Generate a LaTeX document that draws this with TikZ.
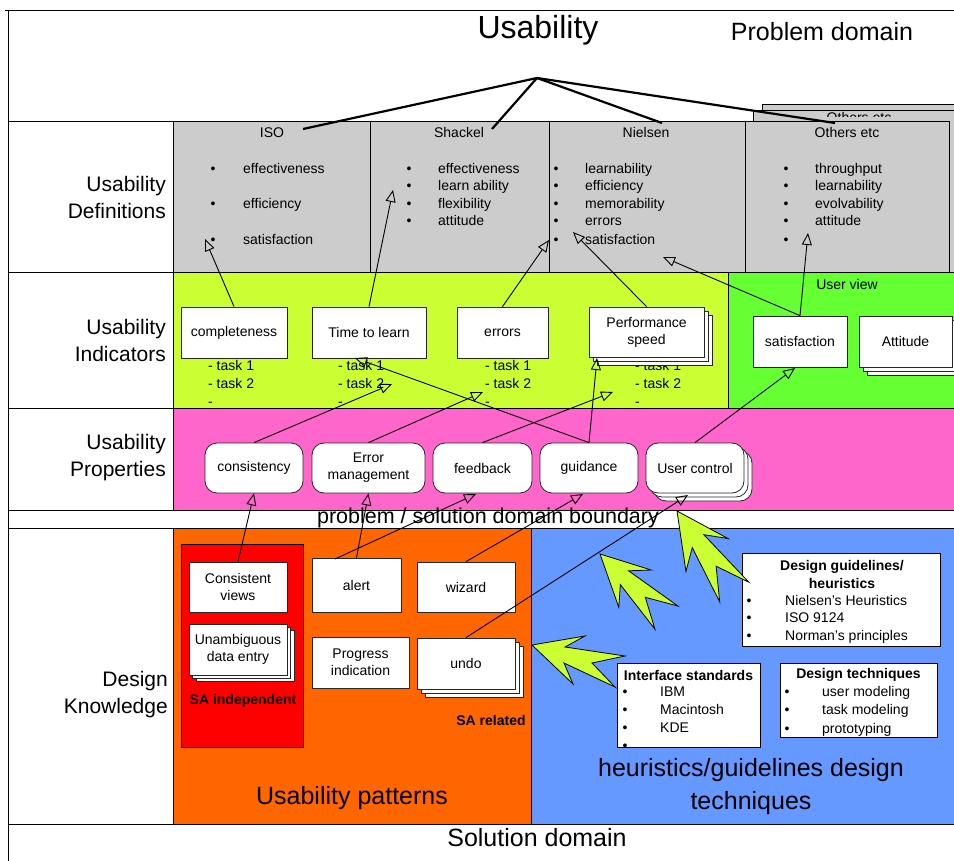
\documentclass[tikz,border=0pt]{standalone}
\usepackage{fontspec}
\setmainfont{Liberation Sans}
\usetikzlibrary{arrows.meta,shadows}
\definecolor{defgray}{HTML}{CCCCCC}
\definecolor{ulime}{HTML}{CCFF33}
\definecolor{ugreen}{HTML}{66FF33}
\definecolor{upink}{HTML}{FF66CC}
\definecolor{uorange}{HTML}{FF6600}
\definecolor{ublue}{HTML}{6699FF}
\definecolor{ured}{HTML}{FF0000}
\begin{document}
\begin{tikzpicture}[x=1pt,y=-1pt,
  region/.style={draw=black,line width=0.9pt},
  ibox/.style={draw=black!85,fill=white,line width=0.8pt,inner sep=1pt,align=center,font=\fontsize{14}{17}\selectfont},
  pbox/.style={ibox,rounded corners=12pt},
  txt/.style={inner sep=0pt,font=\fontsize{14}{17}\selectfont},
  itm/.style={txt,anchor=west,text height=10pt,text depth=3pt},
  bul/.style={txt,text height=10pt,text depth=3pt},
  boldtxt/.style={inner sep=0pt,align=center,font={\fontsize{14}{18}\selectfont\bfseries}},
  big/.style={inner sep=0pt,align=center,font=\fontsize{25}{33}\selectfont},
  side/.style={inner sep=0pt,align=right,anchor=east,font=\fontsize{21}{27}\selectfont},
  conn/.style={line width=0.9pt,-{Triangle[open,length=12pt,width=10pt]}},
  fan/.style={line width=2.2pt},
  claw/.style={fill=ulime,draw=black,line width=0.8pt,line join=miter},
  stackthree/.style={double copy shadow={shadow xshift=4pt,shadow yshift=-4pt}},
  clawpic/.pic={\draw[claw] (0,0) -- (53,-9) -- (33,2) -- (93,11) -- (60,18) -- (83,42) -- (32,18) -- (41,39) -- cycle;}
]
\useasboundingbox (0,0) rectangle (954,861);
\fill[white] (0,0) rectangle (954,861);

% ---------- frame and left column ----------
\draw[region] (5,10) -- (954,10);
\draw[region] (8,10) -- (8,861);
\draw[region] (8,121) -- (173,121);
\draw[region] (8,272) -- (173,272);
\draw[region] (8,408) -- (173,408);
\draw[region] (8,510) -- (954,510);
\draw[region] (8,528) -- (954,528);
\draw[region] (8,824) -- (954,824);

\node[side] (lDef) at (166,197) {Usability\\Definitions};
\node[side] (lInd) at (166,340) {Usability\\Indicators};
\node[side] (lProp) at (166,458) {Usability\\Properties};
\node[side] (lDK) at (168,695) {Design\\Knowledge};

% ---------- top ----------
\node[inner sep=0pt,font=\fontsize{32}{36}\selectfont] (title) at (538,30) {Usability};
\node[inner sep=0pt,font=\fontsize{25}{30}\selectfont] (pdom) at (822,32) {Problem domain};

% ---------- definitions row ----------
\draw[region,fill=defgray] (762,104) rectangle (958,272);
\draw[region,fill=defgray] (753,110) rectangle (958,272);
\begin{scope}
  \clip (753,111) rectangle (958,116.5);
  \node[bul] (oth2t) at (859,119.5) {Others etc};
\end{scope}

\node[region,fill=defgray,inner sep=0pt,anchor=north west,minimum width=197,minimum height=151] (iso) at (173,121) {};
\node[region,fill=defgray,inner sep=0pt,anchor=north west,minimum width=179,minimum height=151] (shackel) at (370,121) {};
\node[region,fill=defgray,inner sep=0pt,anchor=north west,minimum width=196,minimum height=151] (nielsen) at (549,121) {};
\node[region,fill=defgray,inner sep=0pt,anchor=north west,minimum width=204,minimum height=151] (others) at (745,121) {};

\node[bul] (isoh) at (272,134) {ISO};
\node[bul] (shh) at (459,134) {Shackel};
\node[bul] (nih) at (646,134) {Nielsen};
\node[bul] (oth) at (847,134) {Others etc};

\foreach \t/\yy [count=\i] in {effectiveness/170, efficiency/205, satisfaction/241}
  {\node[bul] (isob\i) at (213,\yy) {\textbullet}; \node[itm] (isoi\i) at (243,\yy) {\t};}
\foreach \t/\yy [count=\i] in {effectiveness/170, learn ability/187, flexibility/205, attitude/222}
  {\node[bul] (shb\i) at (409,\yy) {\textbullet}; \node[itm] (shi\i) at (438,\yy) {\t};}
\foreach \t/\yy [count=\i] in {learnability/170, efficiency/187, memorability/205, errors/222, satisfaction/241}
  {\node[bul] (nib\i) at (556,\yy) {\textbullet}; \node[itm] (nii\i) at (585,\yy) {\t};}
\foreach \t/\yy [count=\i] in {throughput/170, learnability/187, evolvability/205, attitude/222}
  {\node[bul] (otb\i) at (786,\yy) {\textbullet}; \node[itm] (oti\i) at (815,\yy) {\t};}
\node[bul] (otb5) at (786,241) {\textbullet};

% ---------- indicators row ----------
\draw[region,fill=ulime] (173,272) rectangle (728,408);
\draw[region,fill=ugreen] (728,272) rectangle (958,408);
\node[txt] (uview) at (847,284) {User view};

\foreach \xx/\nm in {208/a,338/b,485/c,635/d}{
  \node[itm] (tk\nm1) at (\xx,367) {- task 1};
  \node[itm] (tk\nm2) at (\xx,385) {- task 2};
  \node[itm] (tk\nm3) at (\xx,403) {-};
}

\node[ibox,minimum width=106,minimum height=51] (compl) at (234,332.5) {completeness};
\node[ibox,minimum width=114,minimum height=51] (tlearn) at (369,332.5) {Time to learn};
\node[ibox,minimum width=91,minimum height=51] (errs) at (502.5,332.5) {errors};
\node[ibox,stackthree,minimum width=115,minimum height=50] (perf) at (646.5,332) {Performance\\speed};
\node[ibox,minimum width=94,minimum height=51] (satis) at (800,341.5) {satisfaction};
\node[ibox,stackthree,minimum width=93,minimum height=51] (attit) at (905.5,341.5) {Attitude};

% ---------- properties row ----------
\draw[region,fill=upink] (173,408) rectangle (958,510);
\node[pbox,minimum width=98,minimum height=50] (cons) at (254,468) {consistency};
\node[pbox,minimum width=113,minimum height=50] (errm) at (368.5,468) {Error\\management};
\node[pbox,minimum width=99,minimum height=50] (feed) at (482.5,468) {feedback};
\node[pbox,minimum width=98,minimum height=50] (guid) at (589,468) {guidance};
\node[pbox,stackthree,minimum width=98,minimum height=50] (uctrl) at (695,468) {User control};

\node[inner sep=0pt,font=\fontsize{21.5}{25}\selectfont] (bound) at (488,518) {problem / solution domain boundary};

% ---------- design knowledge row ----------
\draw[region,fill=uorange] (173,528) rectangle (531,824);
\draw[region,fill=ublue] (531,528) rectangle (958,824);
\draw[region,fill=ured] (181,544) rectangle (303,747);

\node[ibox,minimum width=98,minimum height=50] (cviews) at (238,587) {Consistent\\views};
\node[ibox,double copy shadow={shadow xshift=3.5pt,shadow yshift=-3pt},minimum width=98,minimum height=51] (unamb) at (238,649.5) {Unambiguous\\data entry};
\node[boldtxt] (saind) at (243,701) {SA independent};
\node[ibox,minimum width=89,minimum height=54] (alert) at (356.5,585) {alert};
\node[ibox,minimum width=98,minimum height=50] (wiz) at (466,587) {wizard};
\node[ibox,minimum width=97,minimum height=51] (prog) at (360.5,662.5) {Progress\\indication};
\node[ibox,stackthree,minimum width=98,minimum height=51] (undo) at (466,663.5) {undo};
\node[boldtxt] (sarel) at (491,720) {SA related};
\node[big] (upat) at (352,798) {Usability patterns};

\node[region,fill=white,inner sep=0pt,anchor=north west,minimum width=198,minimum height=93] (dg) at (742,553) {};
\node[boldtxt] (dgt) at (842,574) {Design guidelines/\\heuristics};
\foreach \t/\yy [count=\i] in {Nielsen’s Heuristics/602, ISO 9124/619, Norman’s principles/637}
  {\node[bul] (dgb\i) at (749,\yy) {\textbullet}; \node[itm] (dgi\i) at (785,\yy) {\t};}

\node[region,fill=white,inner sep=0pt,anchor=north west,minimum width=143,minimum height=84] (istd) at (617,663) {};
\node[boldtxt] (istdt) at (688.5,675) {Interface standards};
\foreach \t/\yy [count=\i] in {IBM/693, Macintosh/711, KDE/729}
  {\node[bul] (isb\i) at (625,\yy) {\textbullet}; \node[itm] (isi\i) at (660,\yy) {\t};}
\node[bul] (isb4) at (625,747) {\textbullet};

\node[region,fill=white,inner sep=0pt,anchor=north west,minimum width=157,minimum height=74] (dtech) at (780,663) {};
\node[boldtxt] (dtecht) at (858.5,675) {Design techniques};
\foreach \t/\yy [count=\i] in {user modeling/693, task modeling/711, prototyping/730}
  {\node[bul] (dtb\i) at (787,\yy) {\textbullet}; \node[itm] (dti\i) at (822,\yy) {\t};}

\node[big] (heur) at (751,787) {heuristics/guidelines design\\techniques};
\node[big] (sdom) at (537,838) {Solution domain};

% ---------- green claw arrows ----------
\pic[rotate=-38,scale=1.08] (claw1) at (677,511) {clawpic};
\pic[rotate=-27] (claw2) at (600,554) {clawpic};
\pic (claw3) at (532,645) {clawpic};

% ---------- fan from Usability ----------
\coordinate (apex) at (537,78);
\coordinate (fIso) at (303,129);
\coordinate (fSh) at (492,129);
\coordinate (fNi) at (662,123);
\coordinate (fOt) at (835,123);
\draw[fan] (apex) -- (fIso);
\draw[fan] (apex) -- (fSh);
\draw[fan] (apex) -- (fNi);
\draw[fan] (apex) -- (fOt);

% ---------- connectors ----------
\coordinate (tIsoSat) at (205,239);
\coordinate (tShLearn) at (393,190);
\coordinate (tNiSat) at (549,240);
\coordinate (tNiErr) at (573,232);
\coordinate (tNiBot) at (663,257);
\coordinate (tOtBul) at (808,233);
\draw[conn] (compl.north) -- (tIsoSat);
\draw[conn] (tlearn.north) -- (tShLearn);
\draw[conn] (errs.north) -- (tNiSat);
\draw[conn] (perf.north) -- (tNiErr);
\draw[conn] (satis.north) -- (tNiBot);
\draw[conn] (satis.north) -- (tOtBul);

\coordinate (tTask2) at (392,384);
\coordinate (tErrTask) at (483,392);
\coordinate (tPerfTask) at (613,392);
\coordinate (tPerfBot) at (597,358);
\coordinate (tTlBot) at (355,358);
\coordinate (tSatBot) at (795,368);
\draw[conn] (cons.north) -- (tTask2);
\draw[conn] (errm.north) -- (tErrTask);
\draw[conn] (feed.north) -- (tPerfTask);
\draw[conn] (guid.north) -- (tPerfBot);
\draw[conn] (guid.north) -- (tTlBot);
\draw[conn] (uctrl.north) -- (tSatBot);

\coordinate (alertL) at (335,559);
\coordinate (tFeedBot) at (476,494);
\coordinate (tGuidBot) at (583,494);
\coordinate (tUcBot) at (688,495);
\draw[conn] (cviews.north) -- (cons.south);
\draw[conn] (alert.north) -- (errm.south);
\draw[conn] (alertL) -- (tFeedBot);
\draw[conn] (wiz.north) -- (tGuidBot);
\draw[conn] (undo.north) -- (tUcBot);
\end{tikzpicture}
\end{document}
